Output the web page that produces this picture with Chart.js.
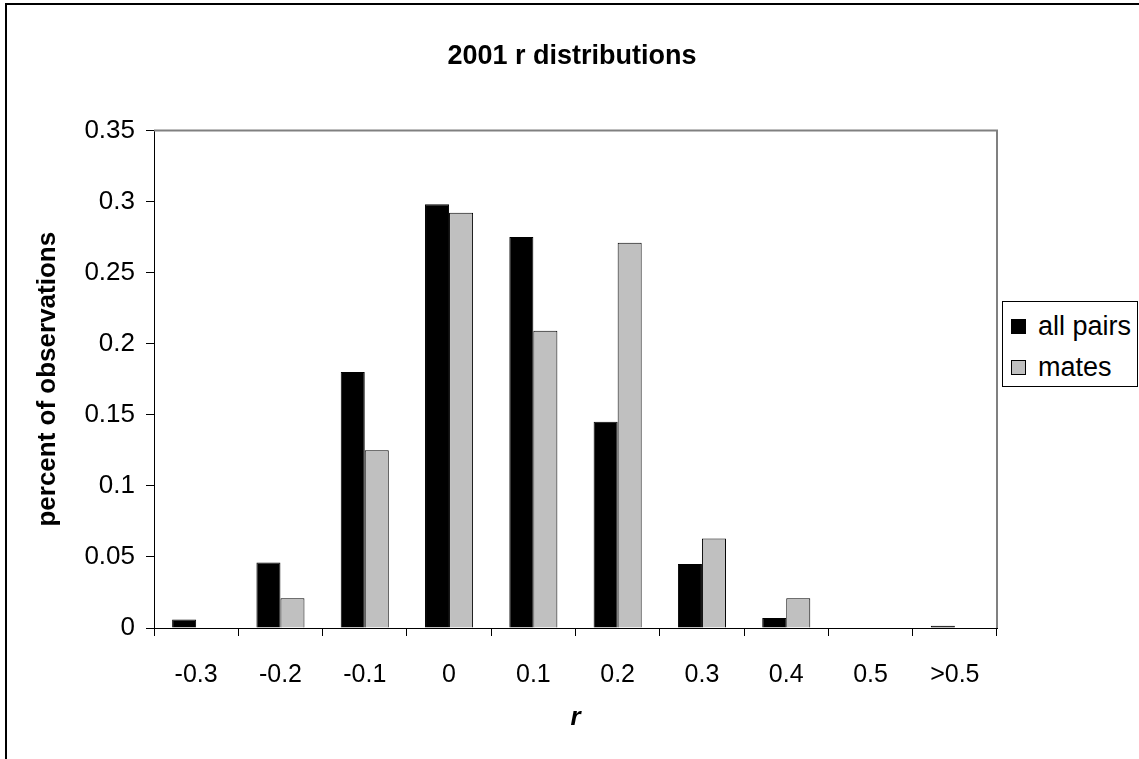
<!DOCTYPE html>
<html lang="en">
<head>
  <meta charset="UTF-8">
  <script src="https://cdn.jsdelivr.net/npm/chart.js"></script>
  <title>2001 r distributions</title>
  <style>
    body { margin: 0; background: #fff; font-family: "Liberation Sans", Arial, sans-serif; }
    .wrap { position: relative; width: 1139px; height: 759px; overflow: hidden; }
    .frame { position: absolute; left: 5px; top: 3px; width: 1300px; height: 900px; border: 2px solid #000; }
    .chart-container { position: absolute; left: 0; top: 0; width: 1139px; height: 759px; }
    .legend { position: absolute; left: 1002px; top: 301px; width: 134px; height: 84px; border: 1px solid #000; background: #fff; }
    .legend div { position: absolute; left: 8px; height: 30px; line-height: 30px; font-size: 27px; color: #000; white-space: nowrap; }
    .legend span { display: inline-block; width: 13px; height: 13px; border: 1px solid #000; margin-right: 12px; vertical-align: 1px; }
  </style>
</head>
<body>
<div class="wrap">
  <div class="frame"></div>
  <div class="chart-container"><canvas id="rChart"></canvas></div>
  <div class="legend" id="legend"></div>
</div>

<script>
  // values
  const categories = ['-0.3', '-0.2', '-0.1', '0', '0.1', '0.2', '0.3', '0.4', '0.5', '>0.5'];
  const allPairs = [0.006, 0.046, 0.18, 0.298, 0.275, 0.145, 0.045, 0.007, 0, 0.0015];
  const mates = [0, 0.021, 0.125, 0.292, 0.209, 0.271, 0.063, 0.021, 0, 0];
  const seriesNames = ['all pairs', 'mates'];
  const seriesColors = ['#000000', '#c0c0c0'];

  Chart.defaults.font.family = '"Liberation Sans", Arial, sans-serif';
  Chart.defaults.color = '#000';

  // gray border around the plot area (top / right edges)
  const plotBorder = {
    id: 'plotBorder',
    beforeDatasetsDraw(chart) {
      const a = chart.chartArea;
      const ctx = chart.ctx;
      ctx.save();
      ctx.strokeStyle = '#808080';
      ctx.lineWidth = 2;
      ctx.beginPath();
      ctx.moveTo(a.left, a.top);
      ctx.lineTo(a.right, a.top);
      ctx.lineTo(a.right, a.bottom);
      ctx.stroke();
      ctx.restore();
    }
  };

  // centre the title over the whole chart, not just the part left of the legend
  const wideTitle = {
    id: 'wideTitle',
    afterLayout(chart) {
      if (chart.titleBlock) {
        chart.titleBlock.left = 0;
        chart.titleBlock.right = 1144;
        chart.titleBlock.width = 1144;
      }
    }
  };

  const ctx = document.getElementById('rChart');
  const rChart = new Chart(ctx, {
    type: 'bar',
    data: {
      labels: categories,
      datasets: [{
        label: seriesNames[0],
        data: allPairs,
        backgroundColor: seriesColors[0],
        borderColor: '#000',
        borderWidth: 1
      }, {
        label: seriesNames[1],
        data: mates,
        backgroundColor: seriesColors[1],
        borderColor: '#000',
        borderWidth: 1
      }]
    },
    options: {
      responsive: true,
      maintainAspectRatio: false,
      animation: false,
      layout: { padding: { left: 0, right: 142, top: 0, bottom: 0 } },
      datasets: { bar: { categoryPercentage: 0.57, barPercentage: 1 } },
      plugins: {
        legend: { display: false },
        tooltip: { enabled: false },
        title: {
          display: true,
          text: '2001 r distributions',
          font: { size: 27, weight: 'bold' },
          color: '#000',
          padding: { top: 40, bottom: 58 }
        }
      },
      scales: {
        x: {
          afterFit(scale) { scale.height = 131; },
          grid: { display: true, drawOnChartArea: false, drawTicks: true, tickLength: 8, color: '#000', offset: true },
          border: { display: true, color: '#000', width: 1 },
          ticks: { font: { size: 25 }, color: '#000', padding: 24, maxRotation: 0 },
          title: {
            display: true,
            text: 'r',
            font: { size: 26, weight: 'bold', style: 'italic' },
            color: '#000',
            padding: { top: 0, bottom: 26 }
          }
        },
        y: {
          min: 0,
          max: 0.35,
          afterFit(scale) { scale.width = 154; },
          grid: { display: true, drawOnChartArea: false, drawTicks: true, tickLength: 8, color: '#000' },
          border: { display: true, color: '#000', width: 1 },
          ticks: {
            stepSize: 0.05,
            font: { size: 26 },
            color: '#000',
            padding: 11,
            callback: v => String(Number(v.toFixed(2)))
          },
          title: {
            display: true,
            text: 'percent of observations',
            font: { size: 26, weight: 'bold' },
            color: '#000',
            padding: { top: 32, bottom: 0 }
          }
        }
      }
    },
    plugins: [plotBorder, wideTitle]
  });

  // legend box on the right
  const legend = document.getElementById('legend');
  seriesNames.forEach((name, i) => {
    const row = document.createElement('div');
    row.style.top = (i === 0 ? 9 : 50) + 'px';
    row.innerHTML = '<span style="background:' + seriesColors[i] + '"></span>' + name;
    legend.appendChild(row);
  });
</script>
</body>
</html>
